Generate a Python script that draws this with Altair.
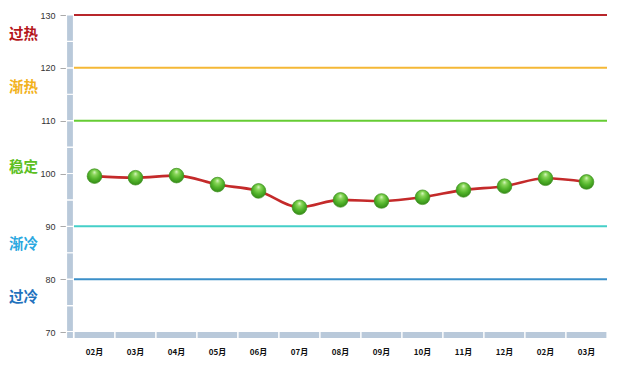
import altair as alt
import pandas as pd

months = ["02月", "03月", "04月", "05月", "06月", "07月", "08月", "09月", "10月", "11月", "12月", "02月", "03月"]
values = [99.5, 99.2, 99.6, 97.9, 96.7, 93.6, 95.0, 94.8, 95.5, 96.9, 97.6, 99.1, 98.4]

level_values = [130, 120, 110, 90, 80]
level_colors = ["#b8262b", "#f5b836", "#66cc33", "#45cfc8", "#3b8fc8"]

zone_names = ["过热", "渐热", "稳定", "渐冷", "过冷"]
zone_pos = [126.2, 116.2, 101.0, 86.4, 76.4]
zone_colors = ["#b5161b", "#f2b21c", "#5cbf22", "#2aa8e0", "#1f72bd"]

seg_lo = [70, 75, 80, 85, 90, 95, 100, 105, 110, 115, 120, 125]

df = pd.DataFrame({"idx": list(range(len(months))), "month": months, "value": values})
lv = pd.DataFrame({"v": level_values, "c": level_colors})
zn = pd.DataFrame({"name": zone_names, "pos": zone_pos, "c": zone_colors})
sg = pd.DataFrame({"lo": seg_lo, "hi": [s + 5 for s in seg_lo]})

label_js = "[" + ",".join("'%s'" % m for m in months) + "][datum.value]"

yscale = alt.Scale(domain=[70, 130], nice=False, zero=False)
xenc = alt.X("idx:O", scale=alt.Scale(paddingInner=0, paddingOuter=0),
             axis=alt.Axis(title=None, labelExpr=label_js, labelAngle=0, domain=False, ticks=False,
                           labelPadding=16, labelFontSize=8, labelFontWeight="bold", labelColor="#111",
                           labelFont="Noto Sans CJK SC"))

base = alt.Chart(df)

# vertical axis bar (segmented)
vbar = alt.Chart(sg).mark_rect(color="#b9c9da", stroke="white", strokeWidth=1.2).encode(
    x=alt.value(-7.5), x2=alt.value(-0.5),
    y=alt.Y("lo:Q", scale=yscale, axis=alt.Axis(title=None, values=[70, 80, 90, 100, 110, 120, 130],
                                                 grid=False, domain=False, offset=8, tickSize=6,
                                                 tickColor="#aaaaaa", labelPadding=5, labelFontSize=9,
                                                 labelColor="#333", labelFont="Liberation Sans")),
    y2="hi:Q",
)

# bottom bar (segmented per category)
hbar = base.mark_rect(color="#b9c9da", stroke="white", strokeWidth=1.2).encode(
    x=xenc, y=alt.value(316.5), y2=alt.value(323.5)
)
corner = alt.Chart(sg.head(1)).mark_rect(color="#b9c9da", stroke="white", strokeWidth=1.2).encode(
    x=alt.value(-7.5), x2=alt.value(-0.5), y=alt.value(316.5), y2=alt.value(323.5)
)

levels = alt.Chart(lv).mark_rule(strokeWidth=2).encode(
    y=alt.Y("v:Q", scale=yscale), color=alt.Color("c:N", scale=None)
)

zones = alt.Chart(zn).mark_text(align="left", baseline="middle", fontSize=14.5, fontWeight="bold",
                                font="Noto Sans CJK SC").encode(
    x=alt.value(-65), y=alt.Y("pos:Q", scale=yscale), text="name:N", color=alt.Color("c:N", scale=None)
)

line = base.mark_line(color="#c42a2a", strokeWidth=2.6, interpolate="monotone").encode(
    x=xenc, y=alt.Y("value:Q", scale=yscale)
)

pts = base.mark_circle(
    size=215, opacity=1, stroke="#3d8f1e", strokeWidth=0.7,
    fill=alt.Gradient(gradient="radial", x1=0.5, y1=0.22, r1=0.0, x2=0.5, y2=0.42, r2=0.62,
                      stops=[alt.GradientStop(color="#d9f7c4", offset=0),
                             alt.GradientStop(color="#8ad65a", offset=0.25),
                             alt.GradientStop(color="#52b42a", offset=0.6),
                             alt.GradientStop(color="#2f8514", offset=1)])
).encode(x=xenc, y=alt.Y("value:Q", scale=yscale))

chart = alt.layer(vbar, hbar, corner, levels, zones, line, pts).properties(
    width=533, height=317,
    background="white",
    autosize=alt.AutoSizeParams(type="none"),
    padding={"left": 74, "top": 15, "right": 15, "bottom": 38},
).configure_view(stroke="transparent", strokeWidth=0)

chart.save("out.html", embed_options={"renderer": "svg", "actions": False})
